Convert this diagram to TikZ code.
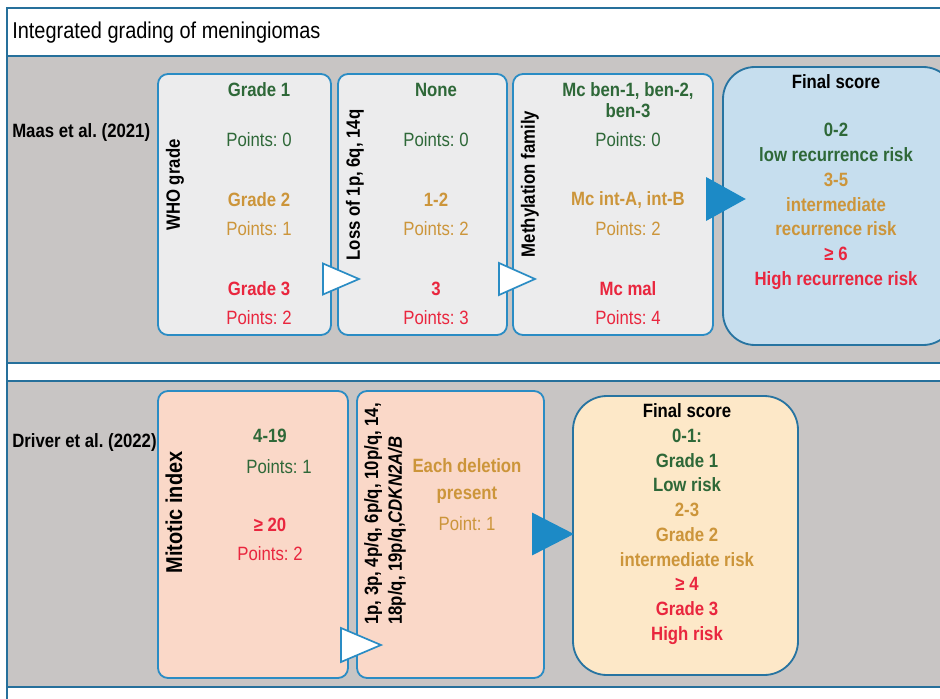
\documentclass[tikz,border=0pt]{standalone}
\usepackage{fontspec}
\setmainfont[FakeStretch=0.87]{Liberation Sans}
\usepackage{xcolor}
\usepackage{tikz}
\usetikzlibrary{shapes.geometric, positioning}
\frenchspacing

\definecolor{frameblue}{RGB}{38,112,155}
\definecolor{boxblue}{RGB}{42,140,196}
\definecolor{arrowblue}{RGB}{28,138,198}
\definecolor{bandgray}{RGB}{200,197,196}
\definecolor{boxgray}{RGB}{236,236,237}
\definecolor{scoreblue}{RGB}{198,222,238}
\definecolor{boxsalmon}{RGB}{250,216,200}
\definecolor{scoreyellow}{RGB}{253,232,200}
\definecolor{lowgreen}{RGB}{46,104,56}
\definecolor{midgold}{RGB}{204,149,58}
\definecolor{highred}{RGB}{233,38,62}

\begin{document}
\begin{tikzpicture}[
    font=\fontsize{13.7}{15}\selectfont,
    frame/.style={draw=frameblue, line width=1.8pt},
    box/.style={draw=boxblue, rounded corners=0.25cm, fill=#1, line width=1.3pt, minimum height=6.525cm, inner sep=0pt},
    box/.default=boxgray,
    score/.style={draw=frameblue!85!boxblue, rounded corners=0.8cm, fill=#1, line width=1.3pt, inner sep=0pt},
    vlabel/.style={font=\bfseries\fontsize{13.7}{15}\selectfont, rotate=90, inner sep=0pt},
    lvl/.style={font=\bfseries\fontsize{13.7}{15}\selectfont, text=#1, inner sep=0pt},
    pts/.style={text=#1, inner sep=0pt},
    tri/.style={isosceles triangle, isosceles triangle stretches, draw=boxblue, fill=#1, line width=1.2pt, inner sep=0pt, outer sep=0pt, anchor=lower side},
    tri/.default=white,
    scoretext/.style={font=\bfseries\fontsize{13.7}{17.6}\selectfont, align=center, inner sep=0pt}
]
\useasboundingbox (0,0) rectangle (23.5,17.45);
\clip (0,0) rectangle (23.5,17.45);

% === FRAME ===
\fill[bandgray] (0.175,16.05) rectangle (23.6,8.375);
\fill[bandgray] (0.175,7.925) rectangle (23.6,0.275);
\draw[frame] (23.6,17.25) -- (0.175,17.25) -- (0.175,-0.1);
\draw[frame] (0.175,16.05) -- (23.6,16.05);
\draw[frame] (0.175,8.375) -- (23.6,8.375);
\draw[frame] (0.175,7.925) -- (23.6,7.925);
\draw[frame] (0.175,0.275) -- (23.6,0.275);

\node[anchor=west, font=\fontsize{16.3}{18}\selectfont, inner sep=0pt] (title) at (0.3,16.625) {Integrated grading of meningiomas};

% === ROW 1: Maas et al. ===
\node[anchor=west, font=\bfseries\fontsize{13.7}{15}\selectfont, inner sep=0pt] (maas) at (0.3,14.125) {Maas et al. (2021)};

\node[box, minimum width=4.325cm] (who) at (6.1125,12.3375) {};
\node[box, minimum width=4.225cm] (loss) at (10.5625,12.3375) {};
\node[box, minimum width=5cm] (meth) at (15.325,12.3375) {};
\node[score=scoreblue, minimum width=5.8cm, minimum height=6.95cm] (final1) at (20.975,12.3) {};

\node[vlabel] (whoL) at (4.375,12.825) {WHO grade};
\node[vlabel] (lossL) at (8.875,12.825) {Loss of 1p, 6q, 14q};
\node[vlabel] (methL) at (13.25,12.85) {Methylation family};

% WHO grade
\node[lvl=lowgreen] (g1) at (6.475,15.2) {Grade 1};
\node[pts=lowgreen] (g1p) at (6.475,13.95) {Points: 0};
\node[lvl=midgold] (g2) at (6.475,12.45) {Grade 2};
\node[pts=midgold] (g2p) at (6.475,11.725) {Points: 1};
\node[lvl=highred] (g3) at (6.475,10.225) {Grade 3};
\node[pts=highred] (g3p) at (6.475,9.5) {Points: 2};

% Copy number loss
\node[lvl=lowgreen] (l0) at (10.9,15.2) {None};
\node[pts=lowgreen] (l0p) at (10.9,13.95) {Points: 0};
\node[lvl=midgold] (l1) at (10.9,12.45) {1-2};
\node[pts=midgold] (l1p) at (10.9,11.725) {Points: 2};
\node[lvl=highred] (l3) at (10.9,10.225) {3};
\node[pts=highred] (l3p) at (10.9,9.5) {Points: 3};

% Methylation family
\node[lvl=lowgreen, align=center, font=\bfseries\fontsize{13.7}{15}\selectfont] (mben) at (15.7,14.9375) {Mc ben-1, ben-2,\\ben-3};
\node[pts=lowgreen] (mbenp) at (15.7,13.95) {Points: 0};
\node[lvl=midgold] (mint) at (15.7,12.45) {Mc int-A, int-B};
\node[pts=midgold] (mintp) at (15.7,11.725) {Points: 2};
\node[lvl=highred] (mmal) at (15.7,10.225) {Mc mal};
\node[pts=highred] (mmalp) at (15.7,9.5) {Points: 4};

% Final score
\node[lvl=black] (final1head) at (20.9,15.4) {Final score};
\node[scoretext] (final1txt) at (20.9,12.2875) {\textcolor{lowgreen}{0-2}\\\textcolor{lowgreen}{low recurrence risk}\\\textcolor{midgold}{3-5}\\\textcolor{midgold}{intermediate}\\\textcolor{midgold}{recurrence risk}\\\textcolor{highred}{≥ 6}\\\textcolor{highred}{High recurrence risk}};

% Arrow heads
\node[tri, minimum width=0.775cm, minimum height=0.9cm] (whoTri) at (8.075,10.475) {};
\node[tri, minimum width=0.8cm, minimum height=0.9cm] (lossTri) at (12.475,10.475) {};
\node[tri=arrowblue, draw=arrowblue, minimum width=1.025cm, minimum height=0.925cm] (methTri) at (17.675,12.475) {};

% === ROW 2: Driver et al. ===
\node[anchor=west, font=\bfseries\fontsize{13.7}{15}\selectfont, inner sep=0pt] (driver) at (0.3,6.375) {Driver et al. (2022)};

\node[box=boxsalmon, minimum width=4.75cm, minimum height=7.175cm] (mito) at (6.325,4.0875) {};
\node[box=boxsalmon, minimum width=4.675cm, minimum height=7.175cm] (del) at (11.2625,4.0875) {};
\node[score=scoreyellow, minimum width=5.625cm, minimum height=6.975cm, rounded corners=0.85cm] (final2) at (17.1375,4.0625) {};

\node[vlabel, font=\bfseries\fontsize{16.3}{18}\selectfont] (mitoL) at (4.35,4.6375) {Mitotic index};
\node[vlabel, align=left, anchor=west, font=\bfseries\fontsize{13.7}{17}\selectfont] (delL) at (9.625,1.825) {1p, 3p, 4p/q, 6p/q, 10p/q, 14,\\18p/q, 19p/q,\textit{CDKN2A/B}};

% Mitotic index
\node[lvl=lowgreen] (m1) at (6.75,6.55) {4-19};
\node[pts=lowgreen] (m1p) at (6.975,5.775) {Points: 1};
\node[lvl=highred] (m2) at (6.75,4.325) {≥ 20};
\node[pts=highred] (m2p) at (6.75,3.6) {Points: 2};

% Deletions
\node[lvl=midgold, align=center, font=\bfseries\fontsize{13.7}{19.8}\selectfont] (dtxt) at (11.675,5.425) {Each deletion\\present};
\node[pts=midgold] (dtxtp) at (11.675,4.35) {Point: 1};

% Final score
\node[scoretext] (final2txt) at (17.175,4.35) {Final score\\\textcolor{lowgreen}{0-1:}\\\textcolor{lowgreen}{Grade 1}\\\textcolor{lowgreen}{Low risk}\\\textcolor{midgold}{2-3}\\\textcolor{midgold}{Grade 2}\\\textcolor{midgold}{intermediate risk}\\\textcolor{highred}{≥ 4}\\\textcolor{highred}{Grade 3}\\\textcolor{highred}{High risk}};

% Arrow heads
\node[tri, minimum width=0.85cm, minimum height=1cm] (mitoTri) at (8.525,1.325) {};
\node[tri=arrowblue, draw=arrowblue, minimum width=1cm, minimum height=0.975cm] (delTri) at (13.325,4.1) {};

\end{tikzpicture}
\end{document}
